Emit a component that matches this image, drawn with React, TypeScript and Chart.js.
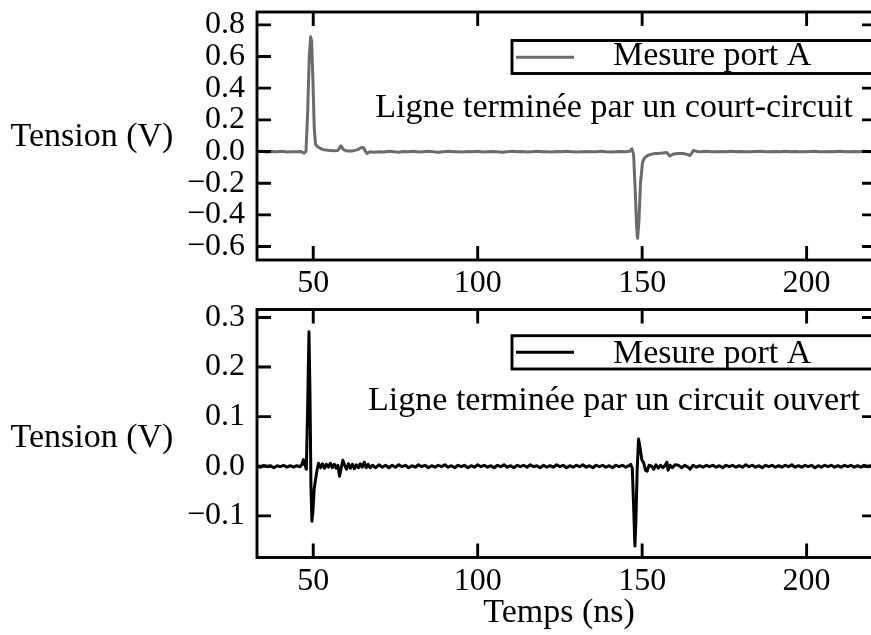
import React, { useEffect, useRef } from 'react';
import { Chart, registerables } from 'chart.js';

Chart.register(...registerables);

// ---------------- data ----------------
const xTickValues = [50, 100, 150, 200];
const yTickValuesShort = [-0.6, -0.4, -0.2, 0.0, 0.2, 0.4, 0.6, 0.8];
const yTickValuesOpen = [-0.1, 0.0, 0.1, 0.2, 0.3];

// Short-circuit termination (grey trace), time in ns
const timeShort = [
  32.9, 34.5, 36, 37.5, 39, 40.5, 42, 43.5, 45, 46.3,
  47.2, 47.8, 48.3, 48.8, 49.2, 49.5, 49.9, 50.3, 50.7, 51.3,
  52.0, 53.0, 54.5, 56.0, 57.5, 58.4, 59.2, 60.3, 62.0, 63.5,
  64.6, 65.3, 65.9, 66.3, 67.2, 68.5, 70.0, 71.5, 73.0, 74.5,
  76.0, 77.5, 79.0, 80.5, 82.0, 83.5, 85.0, 86.5, 88.0, 89.5,
  91.0, 92.5, 94.0, 95.5, 97.0, 98.5, 100.0, 101.5, 103.0, 104.5,
  106.0, 107.5, 109.0, 110.5, 112.0, 113.5, 115.0, 116.5, 118.0, 119.5,
  121.0, 122.5, 124.0, 125.5, 127.0, 128.5, 130.0, 131.5, 133.0, 134.5,
  136.0, 137.5, 139.0, 140.5, 142.0, 143.5, 145.0, 146.2, 146.9, 147.4,
  147.9, 148.3, 148.6, 149.0, 149.5, 150.1, 150.7, 151.5, 152.5, 154.0,
  155.5, 156.8, 157.5, 158.4, 159.5, 161.0, 162.5, 163.7, 164.6, 165.6,
  166.8, 168.0, 169.5, 171.0, 172.5, 174.0, 175.5, 177.0, 178.5, 180.0,
  181.5, 183.0, 184.5, 186.0, 187.5, 189.0, 190.5, 192.0, 193.5, 195.0,
  196.5, 198.0, 199.5, 201.0, 202.5, 204.0, 205.5, 207.0, 208.5, 210.0,
  211.5, 213.0, 214.5, 216.0, 217.5, 219.0, 221.1,
];
const voltShort = [
  -0.002, 0.001, -0.003, 0.000, -0.002, 0.001, -0.003, -0.001, -0.002, 0.000,
  -0.010, 0.000, 0.250, 0.600, 0.724, 0.700, 0.450, 0.150, 0.045, 0.030,
  0.022, 0.012, 0.008, 0.005, 0.006, 0.036, 0.012, 0.003, 0.004, 0.012,
  0.025, 0.024, 0.000, -0.012, -0.002, -0.004, -0.001, -0.003, 0.001, -0.002,
  -0.004, 0.000, -0.002, 0.001, -0.003, -0.001, 0.001, -0.002, -0.004, -0.001,
  0.001, -0.002, -0.001, -0.003, 0.000, -0.002, 0.001, -0.003, -0.001, 0.000,
  -0.002, -0.004, -0.001, 0.001, -0.002, 0.000, -0.003, -0.001, 0.001, -0.002,
  -0.001, -0.003, 0.000, -0.002, 0.001, -0.001, -0.003, -0.001, 0.000, -0.002,
  -0.001, 0.001, -0.002, -0.003, -0.001, 0.000, -0.002, 0.002, 0.017, -0.020,
  -0.250, -0.470, -0.548, -0.450, -0.200, -0.070, -0.040, -0.028, -0.018, -0.013,
  -0.011, -0.008, -0.006, -0.028, -0.016, -0.013, -0.012, -0.018, -0.025, 0.007,
  0.000, -0.002, 0.001, -0.001, -0.002, 0.000, -0.001, 0.001, -0.002, 0.000,
  -0.001, -0.002, 0.000, 0.001, -0.001, -0.002, 0.000, -0.001, 0.001, -0.002,
  0.000, -0.001, -0.002, 0.000, 0.001, -0.001, -0.002, 0.000, -0.001, 0.001,
  -0.001, -0.002, 0.000, -0.001, 0.001, -0.001, 0.000,
];

// Open-circuit termination (black trace), time in ns
const timeOpen = [
  32.9, 34, 35, 36, 37, 38, 39, 40, 41, 42,
  43, 44, 45, 46, 46.6, 47.0, 47.5, 47.9, 48.3, 48.7,
  49.0, 49.3, 49.6, 49.9, 50.3, 50.7, 51.2, 51.6, 52.2, 52.8,
  53.4, 54.0, 54.6, 55.2, 55.8, 56.4, 57.0, 57.5, 58.0, 58.5,
  59.0, 59.5, 60.1, 60.7, 61.3, 61.9, 62.5, 63.1, 63.7, 64.3,
  64.9, 65.5, 66.1, 66.7, 67.3, 68, 69, 70, 71, 72,
  73, 74, 75, 76, 77, 78, 79, 80, 81, 82,
  83, 84, 85, 86, 87, 88, 89, 90, 91, 92,
  93, 94, 95, 96, 97, 98, 99, 100, 101, 102,
  103, 104, 105, 106, 107, 108, 109, 110, 111, 112,
  113, 114, 115, 116, 117, 118, 119, 120, 121, 122,
  123, 124, 125, 126, 127, 128, 129, 130, 131, 132,
  133, 134, 135, 136, 137, 138, 139, 140, 141, 142,
  143, 144, 145, 146, 146.5, 147.0, 147.4, 147.8, 148.1, 148.5,
  148.9, 149.3, 149.9, 150.5, 151.0, 151.5, 152.1, 152.9, 153.5, 154.2,
  154.9, 155.6, 156.3, 157.0, 157.5, 157.9, 158.5, 159.2, 160, 161,
  162, 163, 164, 164.6, 165.5, 166.5, 167.5, 168.5, 169.5, 170.5,
  171.5, 172.5, 173.5, 174.5, 175.5, 176.5, 177.5, 178.5, 179.5, 180.5,
  181.5, 182.5, 183.5, 184.5, 185.5, 186.5, 187.5, 188.5, 189.5, 190.5,
  191.5, 192.5, 193.5, 194.5, 195.5, 196.5, 197.5, 198.5, 199.5, 200.5,
  201.5, 202.5, 203.5, 204.5, 205.5, 206.5, 207.5, 208.5, 209.5, 210.5,
  211.5, 212.5, 213.5, 214.5, 215.5, 216.5, 217.5, 218.5, 219.5, 221.1,
];
const voltOpen = [
  0.000, -0.002, 0.002, -0.001, 0.001, -0.003, 0.001, -0.001, 0.002, -0.002,
  0.001, -0.002, 0.001, -0.001, 0.004, 0.013, 0.002, -0.006, 0.120, 0.271,
  0.150, -0.040, -0.111, -0.090, -0.045, -0.027, -0.006, 0.006, -0.003, 0.005,
  -0.004, 0.004, -0.002, 0.006, -0.003, 0.004, -0.004, 0.002, -0.020, -0.004,
  0.012, 0.003, -0.006, 0.005, -0.004, 0.004, -0.005, 0.003, -0.003, 0.005,
  -0.002, 0.008, -0.003, 0.004, -0.003, 0.002, -0.003, 0.003, -0.002, 0.002,
  -0.003, 0.002, -0.002, 0.003, -0.001, 0.002, -0.003, 0.001, -0.002, 0.003,
  -0.001, 0.002, -0.003, 0.001, -0.002, 0.002, -0.001, 0.003, -0.002, 0.001,
  -0.003, 0.002, -0.001, 0.002, -0.003, 0.001, -0.002, 0.003, -0.001, 0.002,
  -0.002, 0.001, -0.003, 0.002, -0.001, 0.003, -0.002, 0.001, -0.003, 0.002,
  -0.001, 0.002, -0.002, 0.003, -0.001, 0.001, -0.003, 0.002, -0.002, 0.001,
  -0.002, 0.003, -0.001, 0.002, -0.003, 0.001, -0.002, 0.002, -0.001, 0.003,
  -0.002, 0.001, -0.003, 0.002, -0.001, 0.002, -0.002, 0.001, -0.003, 0.002,
  -0.001, 0.002, -0.002, 0.001, 0.004, -0.004, -0.080, -0.161, -0.110, -0.005,
  0.055, 0.040, 0.013, 0.006, -0.008, -0.010, 0.002, 0.000, -0.006, 0.003,
  -0.004, 0.002, -0.003, 0.002, 0.008, -0.008, 0.002, -0.003, 0.003, 0.002,
  -0.003, 0.002, -0.002, -0.006, 0.002, -0.002, 0.001, -0.002, 0.002, -0.001,
  0.002, -0.002, 0.001, -0.003, 0.002, -0.001, 0.002, -0.002, 0.001, -0.002,
  0.003, -0.001, 0.002, -0.002, 0.001, -0.003, 0.002, -0.001, 0.002, -0.002,
  0.001, -0.002, 0.002, -0.001, 0.003, -0.002, 0.001, -0.002, 0.002, -0.001,
  0.002, -0.003, 0.001, -0.002, 0.002, -0.001, 0.002, -0.002, 0.001, -0.002,
  0.002, -0.001, 0.002, -0.002, 0.001, -0.002, 0.002, -0.001, 0.001, 0.000,
];

const seriesName = 'Mesure port A';
const captionShort = 'Ligne terminée par un court-circuit';
const captionOpen = 'Ligne terminée par un circuit ouvert';
const yAxisTitle = 'Tension (V)';
const xAxisTitle = 'Temps (ns)';

// ---------------- layout / style ----------------
const FONT_FAMILY = '"Liberation Serif", "Times New Roman", serif';
const TICK_FONT_SIZE = 32;
const TEXT_FONT_SIZE = 34;
const CANVAS_W = 900;
const CANVAS_H = 735;
const OFFSET_Y = 50;
const PLOT_LEFT = 257;
const PLOT_RIGHT = 876;
const X_AXIS_H = 50;
const X_MIN = 32.9;
const X_MAX = 221.1;
const TICK_LEN = 14;
const FRAME_W = 2.9;
const TRACE_W = 3;

type Panel = {
  top: number;
  bottom: number;
  yMin: number;
  yMax: number;
  yTicks: number[];
  times: number[];
  volts: number[];
  color: string;
  legendTop: number;
  legendBottom: number;
  legendLineY: number;
  legendTextBase: number;
  caption: string;
  captionBase: number;
  yTitleBase: number;
  showXTitle: boolean;
};

const panelShort: Panel = {
  top: 12,
  bottom: 260,
  yMin: -0.685,
  yMax: 0.881,
  yTicks: yTickValuesShort,
  times: timeShort,
  volts: voltShort,
  color: '#6b6b6b',
  legendTop: 40.5,
  legendBottom: 73.5,
  legendLineY: 57.3,
  legendTextBase: 65,
  caption: captionShort,
  captionBase: 117,
  yTitleBase: 146,
  showXTitle: false,
};

const panelOpen: Panel = {
  top: 309.5,
  bottom: 557.5,
  yMin: -0.184,
  yMax: 0.316,
  yTicks: yTickValuesOpen,
  times: timeOpen,
  volts: voltOpen,
  color: '#000000',
  legendTop: 335.7,
  legendBottom: 369,
  legendLineY: 352.3,
  legendTextBase: 363,
  caption: captionOpen,
  captionBase: 410,
  yTitleBase: 447,
  showXTitle: true,
};

const fmtY = (v: number) => (v < 0 ? '\u2212' : '') + Math.abs(v).toFixed(1);

function makeOverlay(p: Panel) {
  return {
    id: 'overlay',
    afterDraw(chart: any) {
      const { ctx, chartArea: a, scales } = chart;
      const xs = scales.x;
      const ys = scales.y;
      const Y = (v: number) => v + OFFSET_Y;
      ctx.save();
      ctx.strokeStyle = '#000';
      ctx.lineWidth = FRAME_W;
      ctx.strokeRect(a.left, a.top, a.right - a.left, a.bottom - a.top);
      ctx.beginPath();
      xs.ticks.forEach((t: any) => {
        const px = xs.getPixelForValue(t.value);
        ctx.moveTo(px, a.bottom);
        ctx.lineTo(px, a.bottom - TICK_LEN);
        ctx.moveTo(px, a.top);
        ctx.lineTo(px, a.top + TICK_LEN);
      });
      ys.ticks.forEach((t: any) => {
        const py = ys.getPixelForValue(t.value);
        ctx.moveTo(a.left, py);
        ctx.lineTo(a.left + TICK_LEN, py);
        ctx.moveTo(a.right, py);
        ctx.lineTo(a.right - TICK_LEN, py);
      });
      ctx.stroke();

      // legend box
      const lx = 512;
      const lw = CANVAS_W + 20 - lx;
      const lh = p.legendBottom - p.legendTop;
      ctx.fillStyle = '#fff';
      ctx.fillRect(lx, Y(p.legendTop), lw, lh);
      ctx.strokeRect(lx, Y(p.legendTop), lw, lh);
      ctx.beginPath();
      ctx.strokeStyle = p.color;
      ctx.lineWidth = TRACE_W;
      ctx.moveTo(516, Y(p.legendLineY));
      ctx.lineTo(574, Y(p.legendLineY));
      ctx.stroke();

      ctx.fillStyle = '#000';
      ctx.font = `${TEXT_FONT_SIZE}px ${FONT_FAMILY}`;
      ctx.textBaseline = 'alphabetic';
      ctx.textAlign = 'left';
      ctx.fillText(chart.data.datasets[0].label, 613, Y(p.legendTextBase));
      ctx.textAlign = 'center';
      ctx.fillText(p.caption, 614, Y(p.captionBase));
      ctx.fillText(yAxisTitle, 92, Y(p.yTitleBase));
      if (p.showXTitle) ctx.fillText(xAxisTitle, 559, Y(622));
      ctx.restore();
    },
  };
}

function makeConfig(p: Panel): any {
  const font = { family: FONT_FAMILY, size: TICK_FONT_SIZE, lineHeight: 1.0 };
  return {
    type: 'line',
    data: {
      datasets: [
        {
          label: seriesName,
          data: p.times.map((t, i) => ({ x: t, y: p.volts[i] })),
          borderColor: p.color,
          borderWidth: TRACE_W,
          borderJoinStyle: 'round',
          pointRadius: 0,
          fill: false,
          tension: 0,
        },
      ],
    },
    options: {
      animation: false,
      responsive: false,
      maintainAspectRatio: false,
      events: [],
      layout: {
        padding: {
          left: 0,
          right: CANVAS_W - PLOT_RIGHT,
          top: p.top + OFFSET_Y,
          bottom: CANVAS_H - (p.bottom + OFFSET_Y) - X_AXIS_H,
        },
      },
      plugins: {
        legend: { display: false },
        tooltip: { enabled: false },
      },
      scales: {
        x: {
          type: 'linear',
          min: X_MIN,
          max: X_MAX,
          afterBuildTicks: (s: any) => {
            s.ticks = xTickValues.map((v) => ({ value: v }));
          },
          afterFit: (s: any) => {
            s.height = X_AXIS_H;
          },
          grid: { display: false, drawTicks: false },
          border: { display: false },
          ticks: {
            font,
            color: '#000',
            padding: 8,
            autoSkip: false,
            maxRotation: 0,
            callback: (v: any) => String(v),
          },
        },
        y: {
          type: 'linear',
          min: p.yMin,
          max: p.yMax,
          afterBuildTicks: (s: any) => {
            s.ticks = p.yTicks.map((v) => ({ value: v }));
          },
          afterFit: (s: any) => {
            s.width = PLOT_LEFT;
          },
          grid: { display: false, drawTicks: false },
          border: { display: false },
          ticks: {
            font,
            color: '#000',
            padding: 12,
            autoSkip: false,
            callback: (v: any) => fmtY(Number(v)),
          },
        },
      },
    },
    plugins: [makeOverlay(p)],
  };
}

export default function App() {
  const topRef = useRef<HTMLCanvasElement>(null);
  const botRef = useRef<HTMLCanvasElement>(null);

  useEffect(() => {
    const c1 = new Chart(topRef.current as HTMLCanvasElement, makeConfig(panelShort));
    const c2 = new Chart(botRef.current as HTMLCanvasElement, makeConfig(panelOpen));
    return () => {
      c1.destroy();
      c2.destroy();
    };
  }, []);

  const canvasStyle: React.CSSProperties = {
    position: 'absolute',
    left: 0,
    top: -OFFSET_Y,
    width: CANVAS_W,
    height: CANVAS_H,
  };

  return (
    <div
      style={{
        position: 'fixed',
        left: 0,
        top: 0,
        width: 871,
        height: 635,
        overflow: 'hidden',
        background: '#fff',
      }}
    >
      <canvas ref={topRef} width={CANVAS_W} height={CANVAS_H} style={canvasStyle} />
      <canvas ref={botRef} width={CANVAS_W} height={CANVAS_H} style={canvasStyle} />
    </div>
  );
}
